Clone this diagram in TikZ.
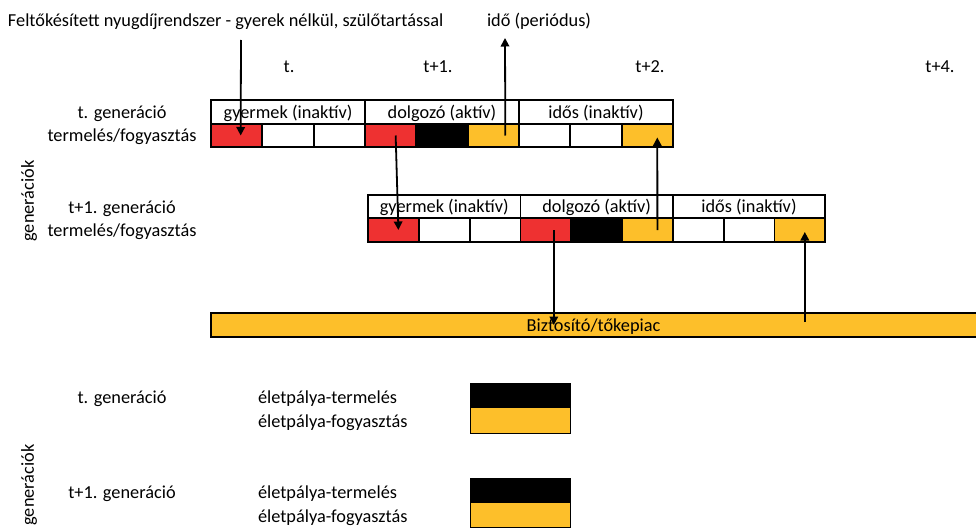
\documentclass[tikz,border=0pt]{standalone}
\usepackage{fontspec}
\setmainfont{Carlito}
\usetikzlibrary{arrows.meta}
\definecolor{cred}{HTML}{EE3131}
\definecolor{cgold}{HTML}{FDBF2A}
\begin{document}
\begin{tikzpicture}[x=1pt,y=-1pt,
  every node/.style={font=\fontsize{18.3}{22}\selectfont, inner sep=0pt, outer sep=0pt},
  lbl/.style={anchor=base},
  lblw/.style={anchor=base west},
  hdr/.style={draw, line width=1.8pt, minimum height=23.5pt, text height=14pt, text depth=2pt},
  cellbox/.style={draw, line width=1.8pt, minimum height=23.5pt},
  arr/.style={line width=1.8pt, -{Triangle[width=8.5pt,length=8.5pt]}},
  legbox/.style={minimum width=100pt, minimum height=25pt},
]
\useasboundingbox (0,0) rectangle (976,527);

% titles
\node[lblw] (title) at (8,27) {Feltőkésített nyugdíjrendszer - gyerek nélkül, szülőtartással};
\node[lblw] (ido) at (487,27) {idő (periódus)};

% periods
\node[lbl] (pt) at (289,72) {t.};
\node[lbl] (pt1) at (438,72) {t+1.};
\node[lbl] (pt2) at (650,72) {t+2.};
\node[lbl] (pt4) at (940,72) {t+4.};

% row labels
\node[lbl] (g1) at (122,118) {t. generáció};
\node[lbl] (g1b) at (122,141) {termelés/fogyasztás};
\node[lbl] (g2) at (122,213) {t+1. generáció};
\node[lbl] (g2b) at (122,236) {termelés/fogyasztás};
\node[rotate=90] (gen1) at (29,201) {generációk};
\node[rotate=90] (gen2) at (29,485) {generációk};

% row 1 cells
\foreach \i/\c in {1/cred,2/white,3/white,4/cred,5/black,6/cgold,7/white,8/white,9/cgold}{
  \node[cellbox, fill=\c, minimum width=51.33pt] (r1c\i) at ({211+(\i-0.5)*51.33},135.5) {};
}
\node[hdr, minimum width=154pt] (r1h1) at (211+77,112) {gyermek (inaktív)};
\node[hdr, minimum width=154pt] (r1h2) at (211+231,112) {dolgozó (aktív)};
\node[hdr, minimum width=154pt] (r1h3) at (211+385,112) {idős (inaktív)};

% row 2 cells
\foreach \i/\c in {1/cred,2/white,3/white,4/cred,5/black,6/cgold,7/white,8/white,9/cgold}{
  \node[cellbox, fill=\c, minimum width=50.8pt] (r2c\i) at ({368+(\i-0.5)*50.8},230) {};
}
\node[hdr, minimum width=152.4pt] (r2h1) at (368+76.2,206.5) {gyermek (inaktív)};
\node[hdr, minimum width=152.4pt] (r2h2) at (368+228.6,206.5) {dolgozó (aktív)};
\node[hdr, minimum width=152.4pt] (r2h3) at (368+381,206.5) {idős (inaktív)};

% bar
\node[fill=cgold, minimum width=765pt, minimum height=24pt, text height=14pt, text depth=2pt] (bar) at (593.5,325) {Biztosító/tőkepiac};
\draw[line width=1.8pt] (bar.north east) -- (bar.north west) -- (bar.south west) -- (bar.south east);

% arrows
\coordinate (a1) at (241,40);
\coordinate (a2) at (505,38);
\draw[arr] (a1) -- ([xshift=4pt]r1c1.center);
\draw[arr] ([xshift=12pt]r1c6.center) -- (a2);
\draw[arr] ([xshift=5pt]r1c4.center) -- ([xshift=5pt]r2c1.center);
\draw[arr] ([xshift=10pt]r2c6.center) -- ([xshift=10pt,yshift=-2pt]r1c9.center);
\coordinate (p5) at ([xshift=8pt]r2c4.center);
\draw[arr] (p5) -- (p5 |- bar.center);
\coordinate (p6) at ([xshift=5pt]r2c9.center);
\draw[arr] ([yshift=3pt]p6 |- bar.center) -- ([yshift=-2pt]p6);

% legend
\node[lbl] (lg1) at (122,403) {t. generáció};
\node[lblw] (lg1a) at (258,403) {életpálya-termelés};
\node[lblw] (lg1b) at (258,427) {életpálya-fogyasztás};
\node[legbox, fill=black] (lb1p) at (520,395.5) {};
\node[legbox, fill=cgold] (lb1c) at (520,420.5) {};
\draw[line width=1pt] (lb1p.north west) rectangle (lb1c.south east);

\node[lbl] (lg2) at (122,498) {t+1. generáció};
\node[lblw] (lg2a) at (258,498) {életpálya-termelés};
\node[lblw] (lg2b) at (258,522) {életpálya-fogyasztás};
\node[legbox, fill=black] (lb2p) at (520,490.5) {};
\node[legbox, fill=cgold, minimum height=24pt] (lb2c) at (520,515) {};
\draw[line width=1pt] (lb2p.north west) rectangle (lb2c.south east);
\end{tikzpicture}
\end{document}
